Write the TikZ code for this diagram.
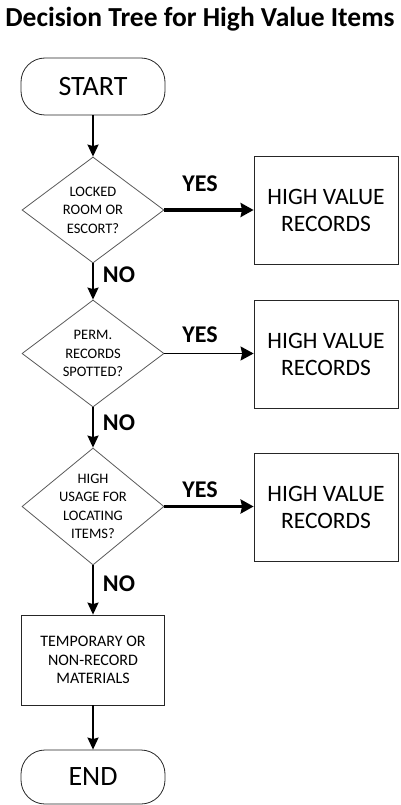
\documentclass[tikz,border=0pt]{standalone}
\usepackage{fontspec}
\setmainfont{Carlito}
\usetikzlibrary{positioning,shapes.geometric,arrows.meta}

\begin{document}
\begin{tikzpicture}[x=1pt, y=-1pt,
  terminal/.style={draw=black!85, line width=0.8pt, rounded corners=24pt,
               minimum width=144pt, inner sep=0pt,
               font=\fontsize{28}{32}\selectfont},
  decision/.style={draw=black!65, line width=0.8pt, diamond,
               minimum width=142pt, inner sep=0pt},
  qtext/.style={align=center, inner sep=0pt,
               font=\fontsize{14.5}{18.5}\selectfont},
  outbox/.style={draw=black!85, line width=0.8pt, minimum width=144pt,
               minimum height=108pt, align=center, inner sep=0pt,
               font=\fontsize{23.5}{27}\selectfont},
  procbox/.style={draw=black!85, line width=0.8pt, minimum width=143pt,
               minimum height=90pt, align=center, inner sep=0pt,
               font=\fontsize{16}{18.5}\selectfont},
  answer/.style={font=\bfseries\fontsize{24}{27}\selectfont, inner sep=0pt},
  flow/.style={line width=1.8pt, -{Stealth[length=12pt, width=11pt, inset=1.5pt]}},
  yesflow/.style={line width=3.2pt, -{Stealth[length=13pt, width=14pt, inset=1.5pt]}},
]

% Page frame and title.
\useasboundingbox (0,0) rectangle (401,805);
\node[font=\bfseries\fontsize{27.5}{30}\selectfont, anchor=base]
  (title) at (200, 27) {Decision Tree for High Value Items};

% Left column: start, three questions, fallback, end.
\node[terminal, minimum height=57pt] (start) at (93, 86.5) {START};

\node[decision, minimum height=106pt] (d1) at (93, 210) {};
\node[qtext] (d1t) at (d1) {LOCKED\\ROOM OR\\ESCORT?};

\node[decision, minimum height=107pt] (d2) at (93, 353.5) {};
\node[qtext] (d2t) at (d2) {PERM.\\RECORDS\\SPOTTED?};

\node[decision, minimum height=117pt] (d3) at (93, 506.5) {};
\node[qtext] (d3t) at (d3) {HIGH\\USAGE FOR\\LOCATING\\ITEMS?};

\node[procbox] (tmp) at (93, 660) {TEMPORARY OR\\NON-RECORD\\MATERIALS};

\node[terminal, minimum height=54pt] (end) at (93, 777) {END};

% Right column: outcomes.
\node[outbox] (b1) at (326, 210) {HIGH VALUE\\RECORDS};
\node[outbox] (b2) at (326, 354) {HIGH VALUE\\RECORDS};
\node[outbox] (b3) at (326, 507) {HIGH VALUE\\RECORDS};

% Answer labels.
\node[answer] (yes1) at (200, 183.5) {YES};
\node[answer] (yes2) at (200, 335) {YES};
\node[answer] (yes3) at (200, 489.5) {YES};
\node[answer] (no1) at (119, 275) {NO};
\node[answer] (no2) at (119, 423) {NO};
\node[answer] (no3) at (119, 584) {NO};

% Downward flow.
\draw[flow] (start) -- (d1);
\draw[flow] (d1) -- (d2);
\draw[flow] (d2) -- (d3);
\draw[flow] (d3) -- (tmp);
\draw[flow] (tmp) -- (end);

% YES branches.
\draw[yesflow] (d1.east) -- (b1.west);
\draw[yesflow, line width=1.5pt] (d2.east) -- (d2.east -| b2.west);
\draw[yesflow] (d3.east) -- (d3.east -| b3.west);

\end{tikzpicture}
\end{document}
